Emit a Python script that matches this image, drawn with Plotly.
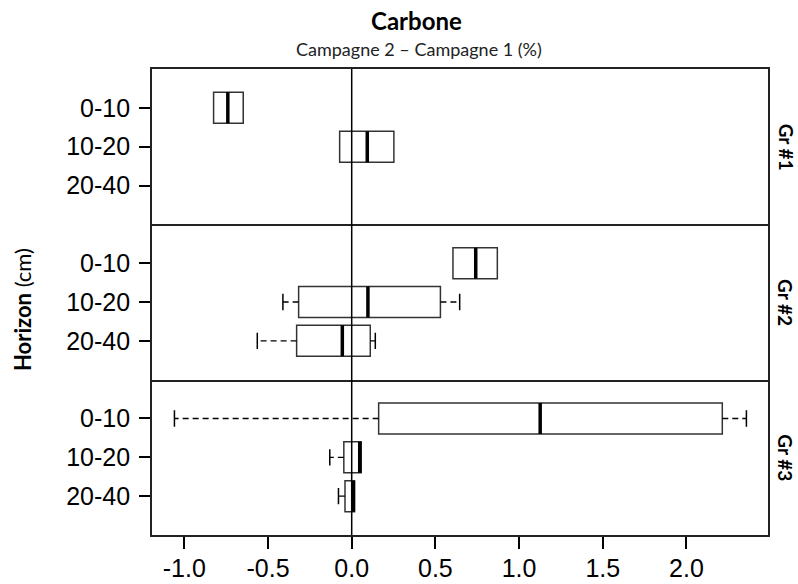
import plotly.graph_objects as go
from plotly.subplots import make_subplots

# categories
groups = ["Gr #1", "Gr #2", "Gr #3"]
horizons = ["0-10", "10-20", "20-40"]
positions = [1, 2, 3]

# box statistics per group, one value per horizon (None = no data)
gr1_q1 = [-0.825, -0.072, None]
gr1_med = [-0.740, 0.093, None]
gr1_q3 = [-0.648, 0.252, None]
gr1_lo = [-0.825, -0.072, None]
gr1_hi = [-0.648, 0.252, None]

gr2_q1 = [0.605, -0.317, -0.329]
gr2_med = [0.741, 0.097, -0.056]
gr2_q3 = [0.870, 0.530, 0.111]
gr2_lo = [0.605, -0.411, -0.564]
gr2_hi = [0.870, 0.645, 0.141]

gr3_q1 = [0.161, -0.047, -0.040]
gr3_med = [1.126, 0.048, 0.010]
gr3_q3 = [2.214, 0.057, 0.017]
gr3_lo = [-1.059, -0.131, -0.079]
gr3_hi = [2.358, 0.057, 0.017]

x_ticks = [-1.0, -0.5, 0.0, 0.5, 1.0, 1.5, 2.0]
x_ticktext = ["-1.0", "-0.5", "0.0", "0.5", "1.0", "1.5", "2.0"]

stats = [
    (gr1_q1, gr1_med, gr1_q3, gr1_lo, gr1_hi),
    (gr2_q1, gr2_med, gr2_q3, gr2_lo, gr2_hi),
    (gr3_q1, gr3_med, gr3_q3, gr3_lo, gr3_hi),
]

BOX_W = 0.8
CAP = 0.21
tick_font = dict(family="Liberation Sans, Arial", size=25, color="black")
text_font = "Lato, Open Sans, sans-serif"
LINE_C = "#222222"

fig = make_subplots(rows=3, cols=1, shared_xaxes=True, vertical_spacing=0)

for r, (q1, med, q3, lo, hi) in enumerate(stats, start=1):
    idx = [i for i in range(len(horizons)) if q1[i] is not None]
    pos = [positions[i] for i in idx]
    fig.add_trace(go.Box(
        orientation="h",
        y=pos,
        q1=[q1[i] for i in idx],
        median=[med[i] for i in idx],
        q3=[q3[i] for i in idx],
        lowerfence=[q1[i] for i in idx],
        upperfence=[q3[i] for i in idx],
        width=BOX_W,
        fillcolor="rgba(0,0,0,0)",
        line=dict(color="#333333", width=1.5),
        boxpoints=False,
        hoverinfo="skip",
        showlegend=False,
    ), row=r, col=1)

    # dashed whiskers
    wx, wy, cx, cy = [], [], [], []
    for i in idx:
        p = positions[i]
        if lo[i] < q1[i]:
            wx += [q1[i], lo[i], None]
            wy += [p, p, None]
            cx += [lo[i], lo[i], None]
            cy += [p - CAP, p + CAP, None]
        if hi[i] > q3[i]:
            wx += [q3[i], hi[i], None]
            wy += [p, p, None]
            cx += [hi[i], hi[i], None]
            cy += [p - CAP, p + CAP, None]
    if wx:
        fig.add_trace(go.Scatter(x=wx, y=wy, mode="lines",
                                 line=dict(color="black", width=1.3, dash="6px,4px"),
                                 hoverinfo="skip", showlegend=False), row=r, col=1)
        fig.add_trace(go.Scatter(x=cx, y=cy, mode="lines",
                                 line=dict(color="black", width=1.5),
                                 hoverinfo="skip", showlegend=False), row=r, col=1)

    # thick medians
    mx, my = [], []
    for i in idx:
        p = positions[i]
        mx += [med[i], med[i], None]
        my += [p - BOX_W / 2, p + BOX_W / 2, None]
    fig.add_trace(go.Scatter(x=mx, y=my, mode="lines",
                             line=dict(color="black", width=3.5),
                             hoverinfo="skip", showlegend=False), row=r, col=1)

    fig.update_yaxes(row=r, col=1, range=[4, 0], tickvals=positions, ticktext=horizons,
                     ticks="outside", ticklen=11, tickwidth=1.5, tickcolor="black",
                     ticklabelstandoff=4, tickfont=tick_font, automargin=False,
                     showline=True, mirror=True, linecolor=LINE_C, linewidth=1.8,
                     showgrid=False, zeroline=False, fixedrange=True)
    # panel 1 draws top border + first divider, panels 2-3 only their bottom line
    fig.update_xaxes(row=r, col=1, range=[-1.193, 2.487], automargin=False,
                     showline=True, mirror=(r == 1), linecolor=LINE_C, linewidth=1.8,
                     showgrid=False, zeroline=False)

fig.update_xaxes(row=3, col=1, tickvals=x_ticks, ticktext=x_ticktext,
                 ticks="outside", ticklen=12, tickwidth=1.5, tickcolor="black",
                 ticklabelstandoff=-2, tickfont=tick_font, showticklabels=True)

# reference line at zero through all panels
fig.add_shape(type="line", xref="x3", yref="paper", x0=0, x1=0, y0=0, y1=1,
              line=dict(color="black", width=1.5))

W, H = 798, 584
ML, MR, MT, MB = 152, 30, 69, 49
pw, ph = W - ML - MR, H - MT - MB


def px(x):
    return (x - ML) / pw


def py(y):
    return (H - MB - y) / ph


annotations = [
    dict(text="<b>Carbone</b>", x=px(416), y=py(21), font=dict(family=text_font, size=24, color="black")),
    dict(text="Campagne 2 \u2013 Campagne 1 (%)", x=px(419), y=py(49),
         font=dict(family=text_font, size=18, color="#222222")),
    dict(text="<b>Horizon</b> (cm)", x=px(22), y=py(310), textangle=-90,
         font=dict(family=text_font, size=22, color="black")),
]
for k, g in enumerate(groups):
    yc = MT + ph * (k + 0.5) / 3
    annotations.append(dict(text="<b>%s</b>" % g, x=px(786), y=py(yc), textangle=90,
                            font=dict(family=text_font, size=19, color="black")))
for a in annotations:
    a.update(xref="paper", yref="paper", showarrow=False, xanchor="center", yanchor="middle")

fig.update_layout(
    width=W, height=H,
    margin=dict(l=ML, r=MR, t=MT, b=MB),
    paper_bgcolor="white", plot_bgcolor="white",
    showlegend=False,
    annotations=annotations,
)

# drop the default 8px body margin so the figure fills the window exactly
fig.write_html("out.html", config={"displayModeBar": False},
               post_script="document.body.style.margin = '0';")
